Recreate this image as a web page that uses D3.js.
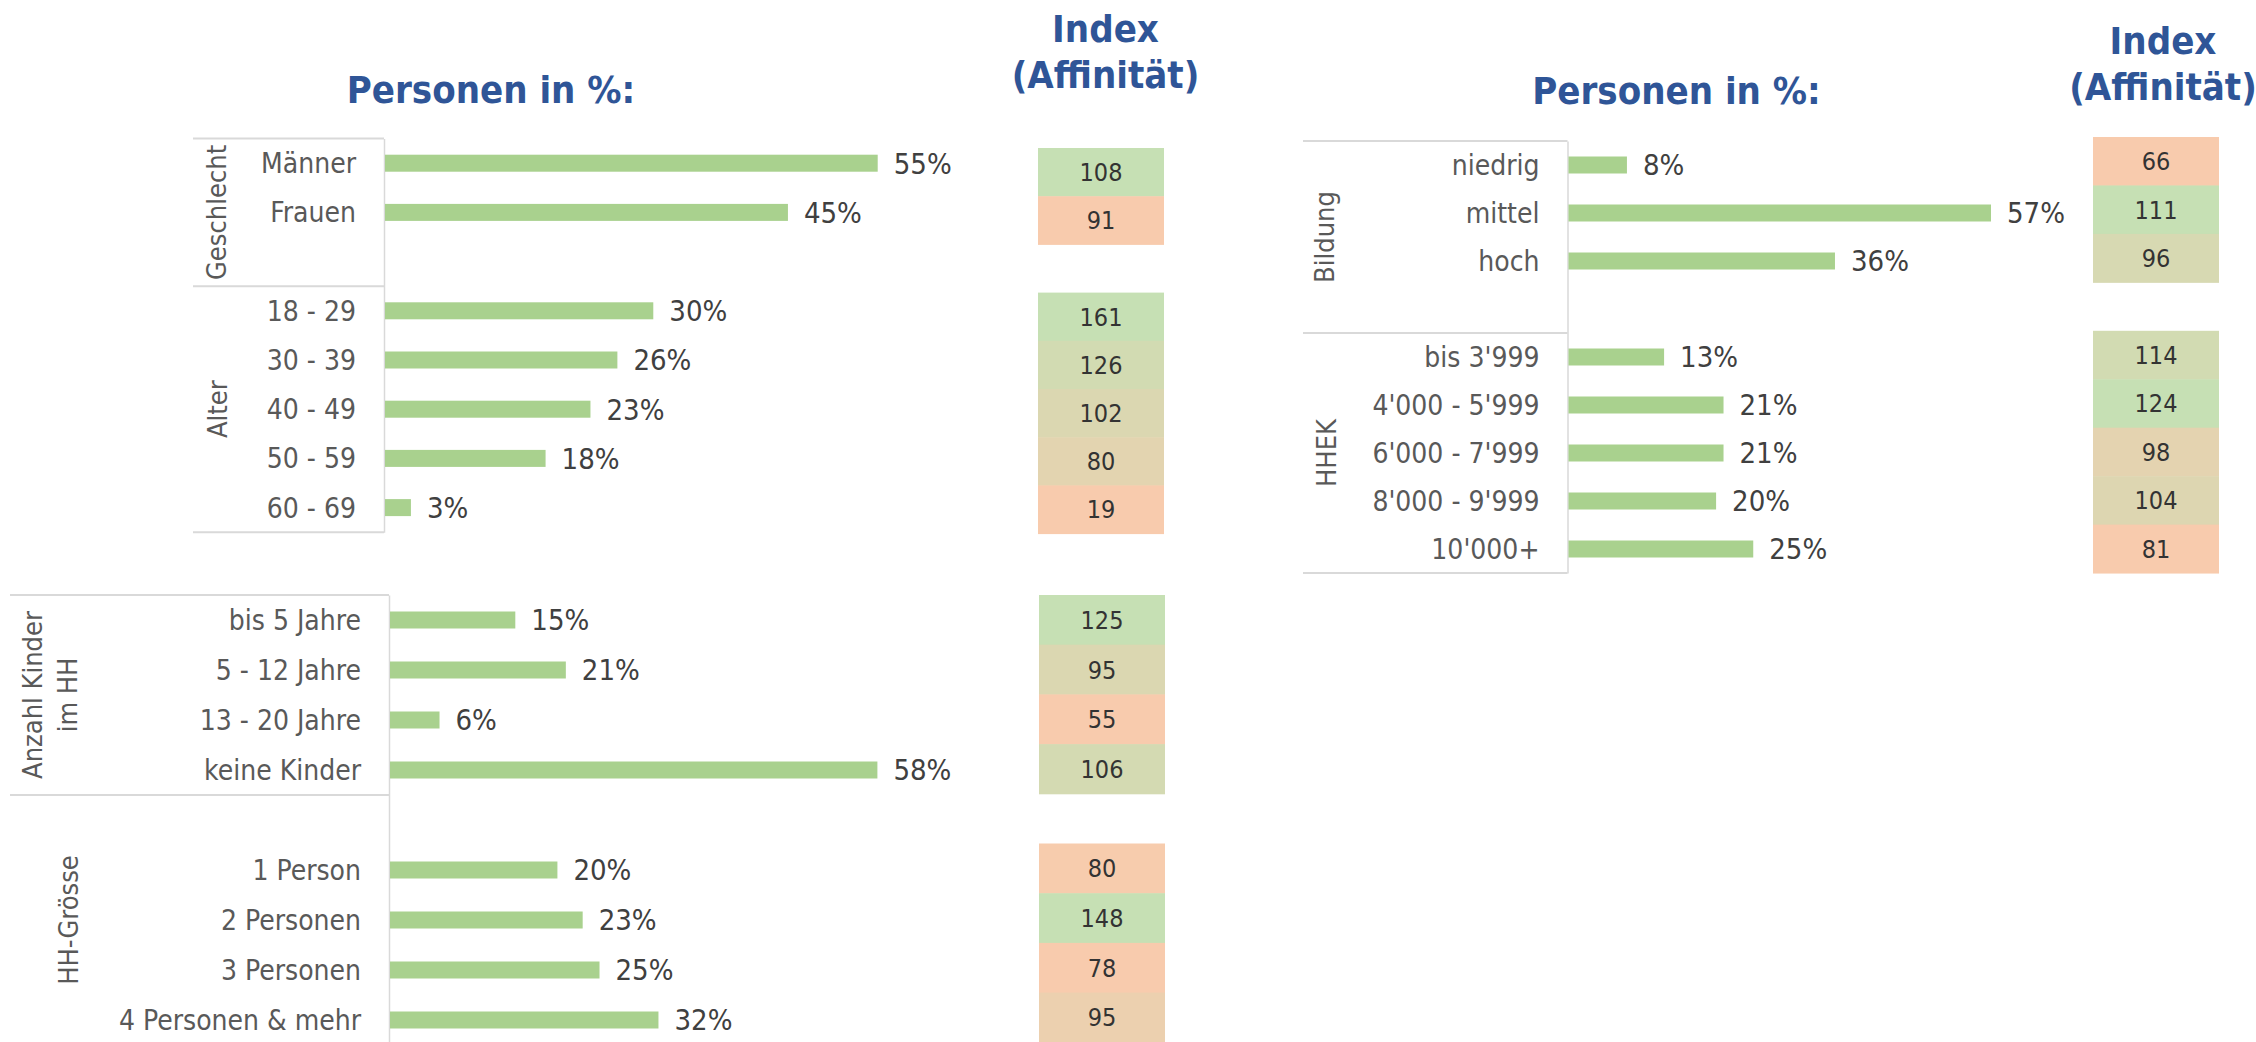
<!DOCTYPE html>
<html>
<head>
<meta charset="utf-8">
<script src="https://cdn.jsdelivr.net/npm/d3@7"></script>
<style>
  body { margin: 0; background: #fff; }
  svg { display: block; }
  .cond { font-family: 'DejaVu Sans Condensed', 'DejaVu Sans', sans-serif; font-stretch: condensed; }
</style>
</head>
<body>
<script>
// --- data ---
var geschlechtCats = ["Männer", "Frauen"];
var geschlechtVals = [55, 45];
var geschlechtIdx = [108, 91];

var alterCats = ["18 - 29", "30 - 39", "40 - 49", "50 - 59", "60 - 69"];
var alterVals = [30, 26, 23, 18, 3];
var alterIdx = [161, 126, 102, 80, 19];

var kinderCats = ["bis 5 Jahre", "5 - 12 Jahre", "13 - 20 Jahre", "keine Kinder"];
var kinderVals = [15, 21, 6, 58];
var kinderIdx = [125, 95, 55, 106];

var hhCats = ["1 Person", "2 Personen", "3 Personen", "4 Personen & mehr"];
var hhVals = [20, 23, 25, 32];
var hhIdx = [80, 148, 78, 95];

var bildungCats = ["niedrig", "mittel", "hoch"];
var bildungVals = [8, 57, 36];
var bildungIdx = [66, 111, 96];

var hhekCats = ["bis 3'999", "4'000 - 5'999", "6'000 - 7'999", "8'000 - 9'999", "10'000+"];
var hhekVals = [13, 21, 21, 20, 25];
var hhekIdx = [114, 124, 98, 104, 81];

var titleText = "Personen in %:";
var indexTitle = ["Index", "(Affinität)"];

// --- style ---
var width = 2256, height = 1042;
var barColor = "#a9d18e";
var lineColor = "#d9d9d9";
var titleColor = "#2f5597";
var lowColor = "#f8cbad", highColor = "#c6e0b4";
var barH = 17;

var svg = d3.select("body").append("svg")
  .attr("width", width)
  .attr("height", height);

var panels = [
  {
    groups: [
      { name: ["Geschlecht"], nameX: [226], cats: geschlechtCats, vals: geschlechtVals, idx: geschlechtIdx, gapAfter: 1 },
      { name: ["Alter"], nameX: [227], cats: alterCats, vals: alterVals, idx: alterIdx }
    ],
    top: 138.6, rowH: 49.2, boxLeft: 193, axisX: 384, xMax: 55, xEnd: 877.7, bottomLine: true,
    idxLeft: 1038, idxW: 126, idxTop: 148, idxRowH: 48.2
  },
  {
    groups: [
      { name: ["Anzahl Kinder", "im HH"], nameX: [41.7, 77.3], cats: kinderCats, vals: kinderVals, idx: kinderIdx },
      { name: ["HH-Grösse"], nameX: [78.3], cats: hhCats, vals: hhVals, idx: hhIdx, gapBefore: 1 }
    ],
    top: 595, rowH: 50, boxLeft: 10, axisX: 389, xMax: 58, xEnd: 877.4, bottomLine: false,
    idxLeft: 1039, idxW: 126, idxTop: 595, idxRowH: 49.7
  },
  {
    groups: [
      { name: ["Bildung"], nameX: [1334], cats: bildungCats, vals: bildungVals, idx: bildungIdx, gapAfter: 1 },
      { name: ["HHEK"], nameX: [1336], cats: hhekCats, vals: hhekVals, idx: hhekIdx }
    ],
    top: 141, rowH: 48, boxLeft: 1303, axisX: 1567.5, xMax: 57, xEnd: 1991, bottomLine: true,
    idxLeft: 2093, idxW: 126, idxTop: 137, idxRowH: 48.45
  }
];

var headers = [
  { lines: [titleText], x: 491, y: [103.3] },
  { lines: indexTitle, x: 1105.5, y: [42.3, 88.3] },
  { lines: [titleText], x: 1676.5, y: [104] },
  { lines: indexTitle, x: 2163, y: [53.6, 100] }
];

headers.forEach(function(h) {
  svg.append("g").selectAll("text")
    .data(h.lines)
    .enter()
    .append("text")
    .attr("class", "cond")
    .attr("x", h.x)
    .attr("y", (d, i) => h.y[i])
    .attr("text-anchor", "middle")
    .attr("font-size", 38)
    .attr("font-weight", "bold")
    .attr("fill", titleColor)
    .text(d => d);
});

panels.forEach(function(p, pi) {
  // build rows incl. empty gap rows
  var rows = [];
  var gapN = 0;
  p.groups.forEach(function(g) {
    g.keys = [];
    var color = d3.scaleLinear().domain(d3.extent(g.idx)).range([lowColor, highColor]);
    for (var k = 0; k < (g.gapBefore || 0); k++) {
      var gk = "_gap" + pi + "_" + (gapN++);
      rows.push({ key: gk, label: "" }); g.keys.push(gk);
    }
    g.cats.forEach(function(c, i) {
      rows.push({ key: c, label: c, val: g.vals[i], idx: g.idx[i], color: color(g.idx[i]) });
      g.keys.push(c);
    });
    for (var k2 = 0; k2 < (g.gapAfter || 0); k2++) {
      var gk2 = "_gap" + pi + "_" + (gapN++);
      rows.push({ key: gk2, label: "" }); g.keys.push(gk2);
    }
  });
  var keys = rows.map(d => d.key);
  var labelOf = {};
  rows.forEach(d => labelOf[d.key] = d.label);

  var y = d3.scaleBand()
    .domain(keys)
    .range([p.top, p.top + keys.length * p.rowH]);

  var yIdx = d3.scaleBand()
    .domain(keys)
    .range([p.idxTop, p.idxTop + keys.length * p.idxRowH]);

  var x = d3.scaleLinear()
    .domain([0, p.xMax])
    .range([p.axisX, p.xEnd]);

  var data = rows.filter(d => d.val != null);
  var panel = svg.append("g");

  // box lines
  var lineYs = [y.range()[0]];
  p.groups.forEach(function(g, gi) {
    if (gi > 0) lineYs.push(y(g.keys[0]));
  });
  if (p.bottomLine) lineYs.push(y.range()[1]);

  panel.selectAll(".hline")
    .data(lineYs)
    .enter()
    .append("line")
    .attr("x1", p.boxLeft)
    .attr("x2", p.axisX)
    .attr("y1", d => d)
    .attr("y2", d => d)
    .attr("stroke", lineColor)
    .attr("stroke-width", 2);

  // category axis
  var axis = panel.append("g")
    .attr("transform", "translate(" + p.axisX + ",0)")
    .call(d3.axisLeft(y).tickSize(0).tickSizeOuter(0).tickPadding(28).tickFormat(k => labelOf[k]))
    .attr("font-family", null)
    .attr("font-size", 28)
    .attr("class", "cond");
  axis.select(".domain").attr("stroke", lineColor).attr("stroke-width", 1.5);
  axis.selectAll("text").attr("fill", "#595959").attr("dy", "0.36em");

  // group labels (rotated)
  p.groups.forEach(function(g) {
    var cy = (y(g.keys[0]) + y(g.keys[g.keys.length - 1]) + y.bandwidth()) / 2;
    panel.append("g").selectAll("text")
      .data(g.name)
      .enter()
      .append("text")
      .attr("class", "cond")
      .attr("transform", (d, i) => "translate(" + g.nameX[i] + "," + cy + ") rotate(-90)")
      .attr("text-anchor", "middle")
      .attr("font-size", 27)
      .attr("fill", "#595959")
      .text(d => d);
  });

  // bars
  panel.selectAll(".bar")
    .data(data)
    .enter()
    .append("rect")
    .attr("class", "bar")
    .attr("x", x(0) + 1)
    .attr("y", d => y(d.key) + (y.bandwidth() - barH) / 2)
    .attr("width", d => x(d.val) - x(0) - 1)
    .attr("height", barH)
    .attr("fill", barColor);

  // value labels
  panel.selectAll(".val")
    .data(data)
    .enter()
    .append("text")
    .attr("class", "cond")
    .attr("x", d => x(d.val) + 16)
    .attr("y", d => y(d.key) + y.bandwidth() / 2)
    .attr("dy", "0.36em")
    .attr("font-size", 29)
    .attr("fill", "#404040")
    .text(d => d.val + "%");

  // index cells
  var cells = panel.selectAll(".cell")
    .data(data)
    .enter()
    .append("g")
    .attr("transform", d => "translate(" + p.idxLeft + "," + yIdx(d.key) + ")");

  cells.append("rect")
    .attr("width", p.idxW)
    .attr("height", yIdx.bandwidth() + 0.5)
    .attr("fill", d => d.color);

  cells.append("text")
    .attr("class", "cond")
    .attr("x", p.idxW / 2)
    .attr("y", yIdx.bandwidth() / 2)
    .attr("dy", "0.36em")
    .attr("text-anchor", "middle")
    .attr("font-size", 25)
    .attr("fill", "#333333")
    .text(d => d.idx);
});
</script>
</body>
</html>
